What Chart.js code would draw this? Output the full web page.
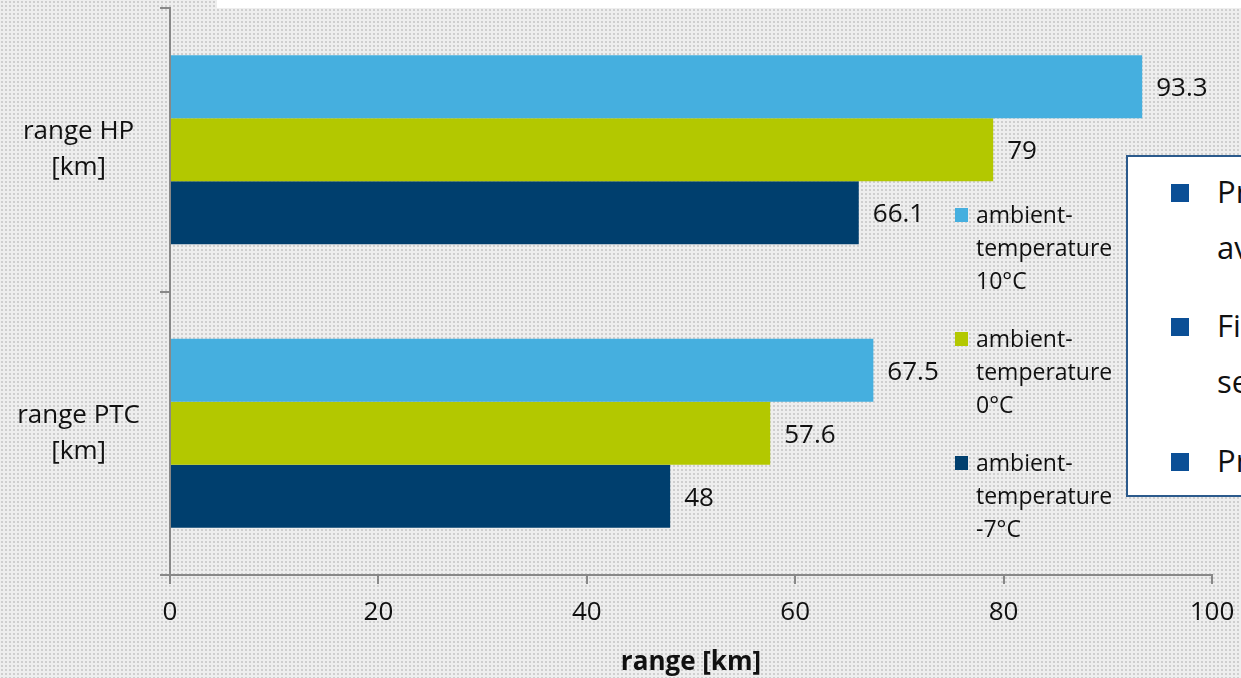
<!DOCTYPE html>
<html>
<head>
<meta charset="utf-8">
<script src="https://cdn.jsdelivr.net/npm/chart.js@4"></script>
<style>
  html, body { margin: 0; padding: 0; }
  body {
    width: 1241px; height: 678px; overflow: hidden; position: relative;
    background-color: #eeeeee;
    background-image:
      radial-gradient(#cccccc 0.7px, transparent 0.8px),
      radial-gradient(#d8d8d8 0.6px, transparent 0.7px);
    background-size: 4px 4px, 4px 4px;
    background-position: 0 0, 2px 2px;
  }
  #topstrip { position: absolute; left: 217px; top: 0; width: 1024px; height: 8px; background: #fff; }
  #wrap { position: absolute; left: 0; top: 0; width: 1241px; height: 678px; }
  #box {
    position: absolute; left: 1126px; top: 155px; width: 140px; height: 342px;
    background: #fff; border: 2px solid #2b5a8c; box-sizing: border-box;
    font-family: "Open Sans", sans-serif; font-size: 31px; color: #111;
  }
  #box .b { position: absolute; left: 43px; width: 18px; height: 18px; background: #0b4f96; }
  #box .t { position: absolute; left: 89px; line-height: 36px; }
</style>
</head>
<body>
<div id="topstrip"></div>
<div id="wrap"><canvas id="myChart" width="1241" height="678"></canvas></div>
<div id="box">
  <div class="b" style="top:27px"></div><div class="t" style="top:16px">Pr</div>
  <div class="t" style="top:72px">av</div>
  <div class="b" style="top:161px"></div><div class="t" style="top:150px">Fi</div>
  <div class="t" style="top:206px">se</div>
  <div class="b" style="top:296px"></div><div class="t" style="top:285px">Pr</div>
</div>
<script>
const categories = [['range HP', '[km]'], ['range PTC', '[km]']];
const seriesNames = [['ambient-', 'temperature', '10°C'], ['ambient-', 'temperature', '0°C'], ['ambient-', 'temperature', '-7°C']];
const temp10 = [93.3, 67.5];
const temp0 = [79, 57.6];
const tempMinus7 = [66.1, 48];
const colors = ['#45afdf', '#b3c800', '#003f6e'];
const xTicks = [0, 20, 40, 60, 80, 100];

const FONT = '"Open Sans", sans-serif';

// value labels right of each bar
const valueLabels = {
  id: 'valueLabels',
  afterDatasetsDraw(chart) {
    const ctx = chart.ctx;
    ctx.save();
    ctx.font = '26px ' + FONT;
    ctx.fillStyle = '#111';
    ctx.textBaseline = 'middle';
    ctx.textAlign = 'left';
    chart.data.datasets.forEach((ds, i) => {
      chart.getDatasetMeta(i).data.forEach((bar, j) => {
        ctx.fillText(String(ds.data[j]), bar.x + 14, bar.y + 2);
      });
    });
    ctx.restore();
  }
};

// legend with wrapped names, drawn inside the plot at right
const wrapLegend = {
  id: 'wrapLegend',
  afterDraw(chart) {
    const ctx = chart.ctx;
    ctx.save();
    ctx.font = '23px ' + FONT;
    ctx.textBaseline = 'middle';
    chart.data.datasets.forEach((ds, i) => {
      const y0 = 215 + i * 124;
      ctx.fillStyle = ds.backgroundColor;
      ctx.fillRect(955, y0 - 7, 13, 14);
      ctx.fillStyle = '#111';
      seriesNames[i].forEach((line, k) => {
        ctx.fillText(line, 976, y0 + 1 + k * 33);
      });
    });
    ctx.restore();
  }
};

new Chart(document.getElementById('myChart'), {
  type: 'bar',
  data: {
    labels: categories,
    datasets: [
      { label: seriesNames[0].join(' '), data: temp10, backgroundColor: colors[0] },
      { label: seriesNames[1].join(' '), data: temp0, backgroundColor: colors[1] },
      { label: seriesNames[2].join(' '), data: tempMinus7, backgroundColor: colors[2] }
    ]
  },
  options: {
    indexAxis: 'y',
    responsive: false,
    animation: false,
    layout: { padding: { top: 8, right: 29, left: 0, bottom: 0 } },
    datasets: { bar: { categoryPercentage: 0.667, barPercentage: 1 } },
    plugins: {
      legend: { display: false },
      tooltip: { enabled: false }
    },
    scales: {
      x: {
        min: 0, max: 100,
        afterBuildTicks(scale) { scale.ticks = xTicks.map(v => ({ value: v })); },
        afterFit(scale) { scale.height = 103; scale.paddingLeft = 0; scale.paddingRight = 0; },
        border: { color: '#888', width: 2 },
        grid: { drawOnChartArea: false, tickLength: 9, color: '#888', lineWidth: 2 },
        ticks: { color: '#111', font: { family: FONT, size: 26 }, padding: 13 },
        title: { display: true, text: 'range [km]', color: '#111', font: { family: FONT, size: 26, weight: 'bold' }, padding: 0 }
      },
      y: {
        afterFit(scale) { scale.width = 170; scale.paddingTop = 0; scale.paddingBottom = 0; },
        border: { color: '#888', width: 2 },
        grid: { drawOnChartArea: false, tickLength: 10, color: '#888', lineWidth: 2, offset: true },
        ticks: { color: '#111', font: { family: FONT, size: 26, lineHeight: 1.38 }, padding: 20, crossAlign: 'center' }
      }
    }
  },
  plugins: [valueLabels, wrapLegend]
});
</script>
</body>
</html>
